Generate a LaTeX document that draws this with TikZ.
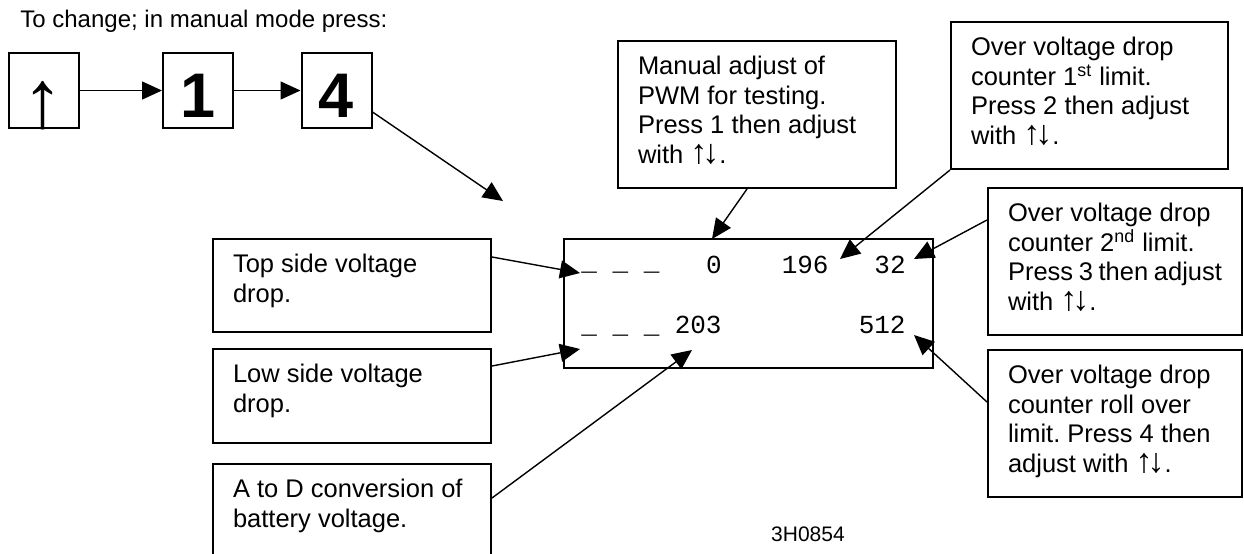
\documentclass[tikz,border=0pt]{standalone}
\usepackage{fontspec}
\setmainfont{Liberation Sans}
\newfontfamily\dispfont{Liberation Mono}
\usetikzlibrary{arrows.meta,calc}
\newcommand\boxtext[3]{\parbox[t][#2][t]{#1}{\frenchspacing\rule{0pt}{16.75pt}#3}}
\newcommand\updn{\smash{\fontsize{17pt}{14.75pt}\selectfont ↑\kern-2.5pt↓}}
\tikzset{
  box/.style={draw, line width=1pt, anchor=north west, inner xsep=10pt, inner ysep=0pt,
    font=\fontsize{12.75pt}{14.75pt}\selectfont},
  keybox/.style={draw, line width=1pt, minimum width=35pt, minimum height=37.5pt, inner sep=0pt,
    text height=26.5pt, text depth=0pt, font=\fontsize{31.5pt}{34pt}\selectfont\bfseries},
  dispbox/.style={draw, line width=1pt, anchor=north west, minimum width=184.5pt, minimum height=64.5pt, inner sep=0pt},
  dtext/.style={font=\fontsize{13pt}{15pt}\dispfont, inner sep=0pt, anchor=base east},
  conn/.style={line width=0.7pt, -{Triangle[length=10pt,width=9pt]}},
}
\begin{document}
\begin{tikzpicture}[x=0.5pt, y=-0.5pt]
\path[fill=white] (0,0) rectangle (1244,553);
\clip (0,0) rectangle (1244,553);

\node[font=\fontsize{12pt}{14pt}\selectfont, anchor=base west, inner sep=0pt] (head) at (20,27) {To change; in manual mode press:};

\node[keybox, text height=36.5pt] (up) at (43.5,90.5) {\mdseries\fontsize{41pt}{43pt}\selectfont ↑};
\node[keybox] (one) at (198,90.5) {1};
\node[keybox] (four) at (336.5,90.5) {4};

\node[box] (manual) at (617,40) {\boxtext{119pt}{73.5pt}{Manual adjust of\\PWM for testing.\\Press 1 then adjust\\with \updn.}};
\node[box] (over1) at (950,21) {\boxtext{118.5pt}{73.5pt}{Over voltage drop\\counter 1\textsuperscript{st} limit.\\Press 2 then adjust\\with \updn.}};
\node[box] (over2) at (987,187) {\boxtext{107pt}{73.5pt}{Over voltage drop\\counter 2\textsuperscript{nd} limit.\\Press 3 then adjust\\with \updn.}};
\node[box] (over3) at (987,349) {\boxtext{107pt}{73.5pt}{Over voltage drop\\counter roll over\\limit. Press 4 then\\adjust with \updn.}};
\node[box] (top) at (212,238) {\boxtext{119pt}{46.5pt}{Top side voltage\\drop.}};
\node[box] (low) at (212,348) {\boxtext{119pt}{47pt}{Low side voltage\\drop.}};
\node[box] (atod) at (212,463) {\boxtext{119pt}{50pt}{A to D conversion of\\battery voltage.}};

\node[dispbox] (disp) at (563,238) {};
\node[dtext] (v0) at (722,273) {0};
\node[dtext] (v196) at (829,273) {196};
\node[dtext] (v32) at (906,273) {32};
\node[dtext] (v203) at (722,333) {203};
\node[dtext] (v512) at (906,333) {512};
\node[dtext, anchor=base west] (dash1) at (581,270) {\_ \_ \_};
\node[dtext, anchor=base west] (dash2) at (581,333) {\_ \_ \_};

\node[font=\fontsize{10.5pt}{12pt}\selectfont, anchor=base, inner sep=0pt] (code) at (808,541) {3H0854};

\coordinate (tipA) at (503,201);
\coordinate (t0) at (712,239);
\coordinate (t196) at (840,259);
\coordinate (t32) at (914,259);
\coordinate (t512) at (914,335);
\coordinate (ttop) at (580,273);
\coordinate (tlow) at (580,349);
\coordinate (t203) at (692,350);

\draw[conn] (up.east) -- (one.west);
\draw[conn] (one.east) -- (four.west);
\draw[conn] ([yshift=-10.75pt]four.east) -- (tipA);
\draw[conn] ([xshift=65pt]manual.south west) -- (t0);
\draw[conn] (over1.south west) -- (t196);
\draw[conn] ([yshift=-16.5pt]over2.north west) -- (t32);
\draw[conn] ([yshift=-26.5pt]over3.north west) -- (t512);
\draw[conn] ([yshift=-9.5pt]top.north east) -- (ttop);
\draw[conn] ([yshift=-9pt]low.north east) -- (tlow);
\draw[conn] ([yshift=-17.5pt]atod.north east) -- (t203);
\end{tikzpicture}
\end{document}
